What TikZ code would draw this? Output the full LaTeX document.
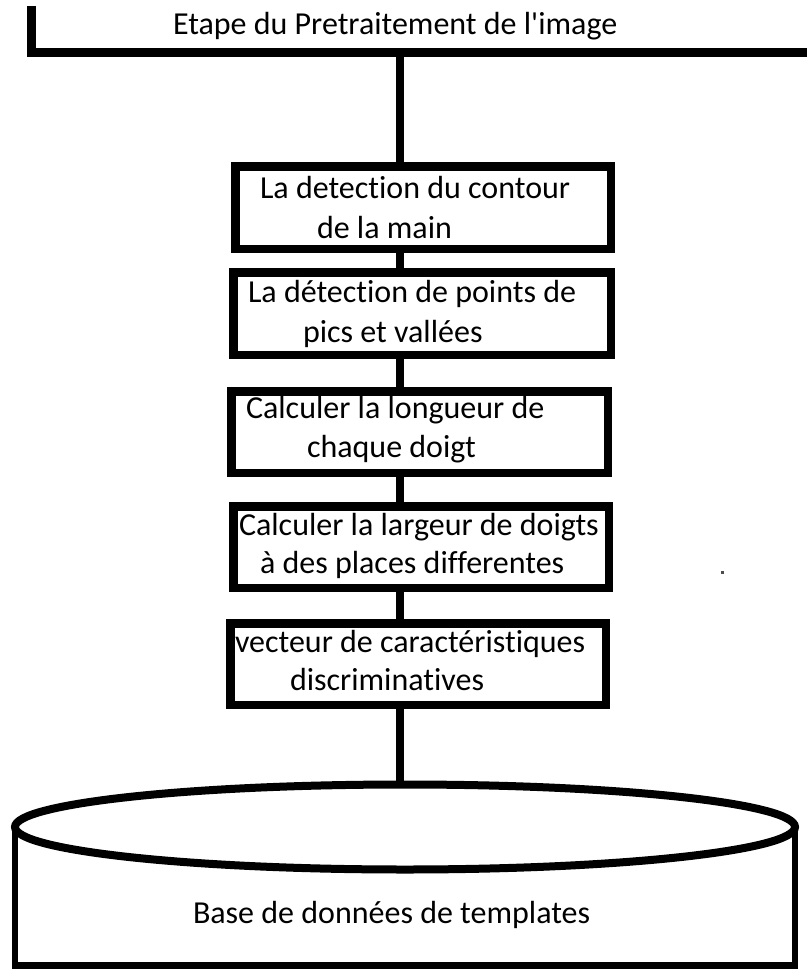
\documentclass[tikz,border=0pt]{standalone}
\usepackage{fontspec}
\newfontfamily\calfont{Carlito}[Ligatures=NoCommon]
\usetikzlibrary{shapes.geometric}
\begin{document}
\begin{tikzpicture}[x=1pt,y=-1pt,
  stepbox/.style={draw, rectangle, line width=8.5pt, inner sep=0pt, outer sep=0pt,
                  minimum width=376pt, minimum height=82pt},
  lbl/.style={anchor=base west, inner sep=0pt, outer sep=0pt,
              font=\calfont\fontsize{32}{38}\selectfont},
  link/.style={draw, line width=8.5pt, line join=miter}]
\useasboundingbox (0,0) rectangle (806,969);

% top bracket
\coordinate (tl) at (31.5,6);
\coordinate (tc) at (31.5,52.5);
\coordinate (tr) at (812,52.5);
\coordinate (c0) at (400,52.5);
\draw[link, line width=9pt] (tl) -- (tc) -- (tr);
\node[lbl] (title) at (173,34) {Etape du Pretraitement de l'image};

% boxes
\node[stepbox, minimum width=375.5pt, minimum height=82.5pt] (b1) at (423,207.5) {};
\node[stepbox, minimum width=377.5pt, minimum height=82.5pt] (b2) at (422,313.5) {};
\node[stepbox, minimum width=376.5pt, minimum height=81.5pt] (b3) at (419.5,432) {};
\node[stepbox, minimum width=375.5pt, minimum height=81.5pt] (b4) at (421,547) {};
\node[stepbox, minimum width=375.5pt, minimum height=81.5pt] (b5) at (418,664) {};

% box texts
\node[lbl] (t1a) at (260,198) {La detection du contour};
\node[lbl] (t1b) at (317,238) {de la main};
\node[lbl] (t2a) at (248,302) {La détection de points de};
\node[lbl] (t2b) at (303,342) {pics et vallées};
\node[lbl] (t3a) at (246,418) {Calculer la longueur de};
\node[lbl] (t3b) at (307,457) {chaque doigt};
\node[lbl] (t4a) at (239,535) {Calculer la largeur de doigts};
\node[lbl] (t4b) at (260,573) {à des places differentes};
\node[lbl] (t5a) at (235,652) {vecteur de caractéristiques};
\node[lbl] (t5b) at (290,690) {discriminatives};

% database cylinder
\node[ellipse, draw, line width=8pt, inner sep=0pt, outer sep=0pt,
      minimum width=780pt, minimum height=85pt] (db) at (405,827) {};
\coordinate (dbb) at (405,965.5);
\draw[line width=6.5pt, line join=miter] (db.west) -- (db.west |- dbb) -- (db.east |- dbb) -- (db.east);
\node[lbl] (dbt) at (193,923) {Base de données de templates};

% connectors
\draw[link] (c0) -- (b1.north -| c0);
\draw[link] (b1.south -| c0) -- (b2.north -| c0);
\draw[link] (b2.south -| c0) -- (b3.north -| c0);
\draw[link] (b3.south -| c0) -- (b4.north -| c0);
\draw[link] (b4.south -| c0) -- (b5.north -| c0);
\draw[link] (b5.south -| c0) -- (db.north -| c0);

% stray dot
\fill[black!70] (720.5,570.5) rectangle (723.5,573.5);
\end{tikzpicture}
\end{document}
